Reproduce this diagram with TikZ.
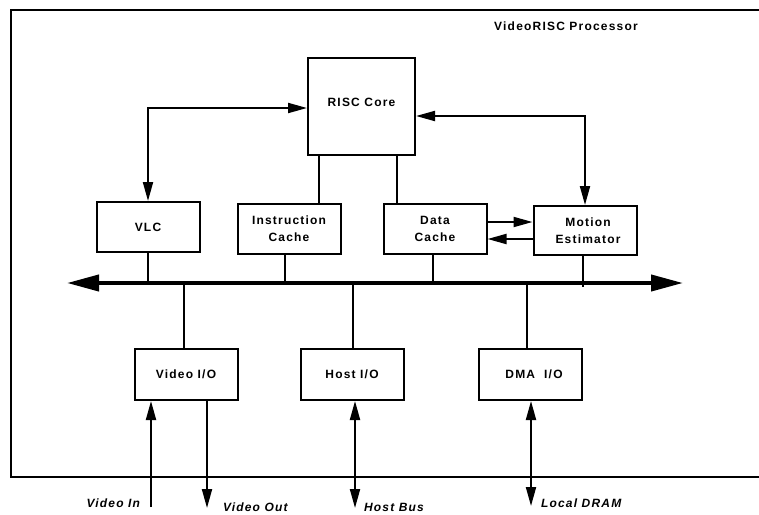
\documentclass[tikz,border=0pt]{standalone}
\usepackage{fontspec}
\setmainfont{Liberation Sans}
\newfontfamily\boxfont[LetterSpace=10]{Liberation Sans}
\usetikzlibrary{arrows.meta}
\begin{document}
\begin{tikzpicture}[x=1pt, y=-1pt, line width=2pt,
    >={Triangle[length=19pt,width=10pt]},
    blk/.style={draw, inner sep=0pt, align=center, minimum width=103pt, minimum height=50pt,
      font=\boxfont\bfseries\fontsize{12}{17}\selectfont},
    lbl/.style={inner sep=0pt, font=\boxfont\bfseries\itshape\fontsize{12}{17}\selectfont},
    bus/.style={line width=4pt, {Triangle[length=32pt,width=16pt]}-{Triangle[length=32pt,width=16pt]}}]
    \clip (0,0) rectangle (759,514);
    \draw (11,10) rectangle (790,477);
    \node[lbl, font=\boxfont\bfseries\fontsize{12}{17}\selectfont] (title) at (566,26) {VideoRISC Processor};
    \node[blk, minimum width=107pt, minimum height=97pt] (risc) at (361.5,106.5) {RISC Core\\[-8pt]};
    \node[blk] (vlc) at (148,227) {VLC};
    \node[blk] (ic) at (289,229) {Instruction\\Cache};
    \node[blk] (dc) at (435,229) {Data\\Cache};
    \node[blk, minimum height=49pt] (me) at (585,230.5) {\hspace{6pt}Motion\\\hspace{6pt}Estimator};
    \node[blk, minimum height=51pt] (vio) at (186,374.5) {Video I/O};
    \node[blk, minimum height=51pt] (hio) at (352,374.5) {Host I/O};
    \node[blk, minimum height=51pt] (dma) at (530,374.5) {\hspace{8pt}DMA~ I/O};
    \coordinate (busL) at (67,283);
    \coordinate (busR) at (683,283);
    \draw[bus] (busL) -- (busR);
    \draw[<->] (vlc.north) |- ([yshift=-1.5pt]risc.west);
    \draw[<->] ([yshift=-9.5pt]risc.east) -| (me.north);
    \coordinate (ric) at ([xshift=-42.5pt]risc.south);
    \coordinate (rdc) at ([xshift=35.5pt]risc.south);
    \draw (ric) -- (ric |- ic.north);
    \draw (rdc) -- (rdc |- dc.north);
    \draw[->] ([yshift=7pt]dc.east) -- ([yshift=8.5pt]me.west);
    \draw[->] ([yshift=-8.5pt]me.west) -- ([yshift=-10pt]dc.east);
    \coordinate (icb) at ([xshift=-4pt]ic.south);
    \coordinate (dcb) at ([xshift=-2pt]dc.south);
    \coordinate (meb) at ([xshift=-2pt]me.south);
    \draw (vlc.south) -- (vlc.south |- busL);
    \draw (icb) -- (icb |- busL);
    \draw (dcb) -- (dcb |- busL);
    \draw (meb) -- ([yshift=-4pt]meb |- busL);
    \coordinate (viot) at ([xshift=-2pt]vio.north);
    \coordinate (hiot) at ([xshift=1pt]hio.north);
    \coordinate (dmat) at ([xshift=-3pt]dma.north);
    \draw (viot |- busL) -- (viot);
    \draw (hiot |- busL) -- (hiot);
    \draw (dmat |- busL) -- (dmat);
    \coordinate (vin) at (151,507);
    \coordinate (vout) at (207,508);
    \coordinate (hbus) at (355,508);
    \coordinate (ldram) at (531,506);
    \draw[->] (vin) -- (vin |- vio.south);
    \draw[->] (vout |- vio.south) -- (vout);
    \draw[<->] (hbus |- hio.south) -- (hbus);
    \draw[<->] (ldram |- dma.south) -- (ldram);
    \node[lbl, anchor=east] (vinlbl) at (141,503) {Video In};
    \node[lbl, anchor=west] (voutlbl) at (222,507.5) {Video Out};
    \node[lbl, anchor=west] (hbuslbl) at (363,507.5) {Host Bus};
    \node[lbl, anchor=west] (ldramlbl) at (540,503) {Local DRAM};
\end{tikzpicture}
\end{document}
